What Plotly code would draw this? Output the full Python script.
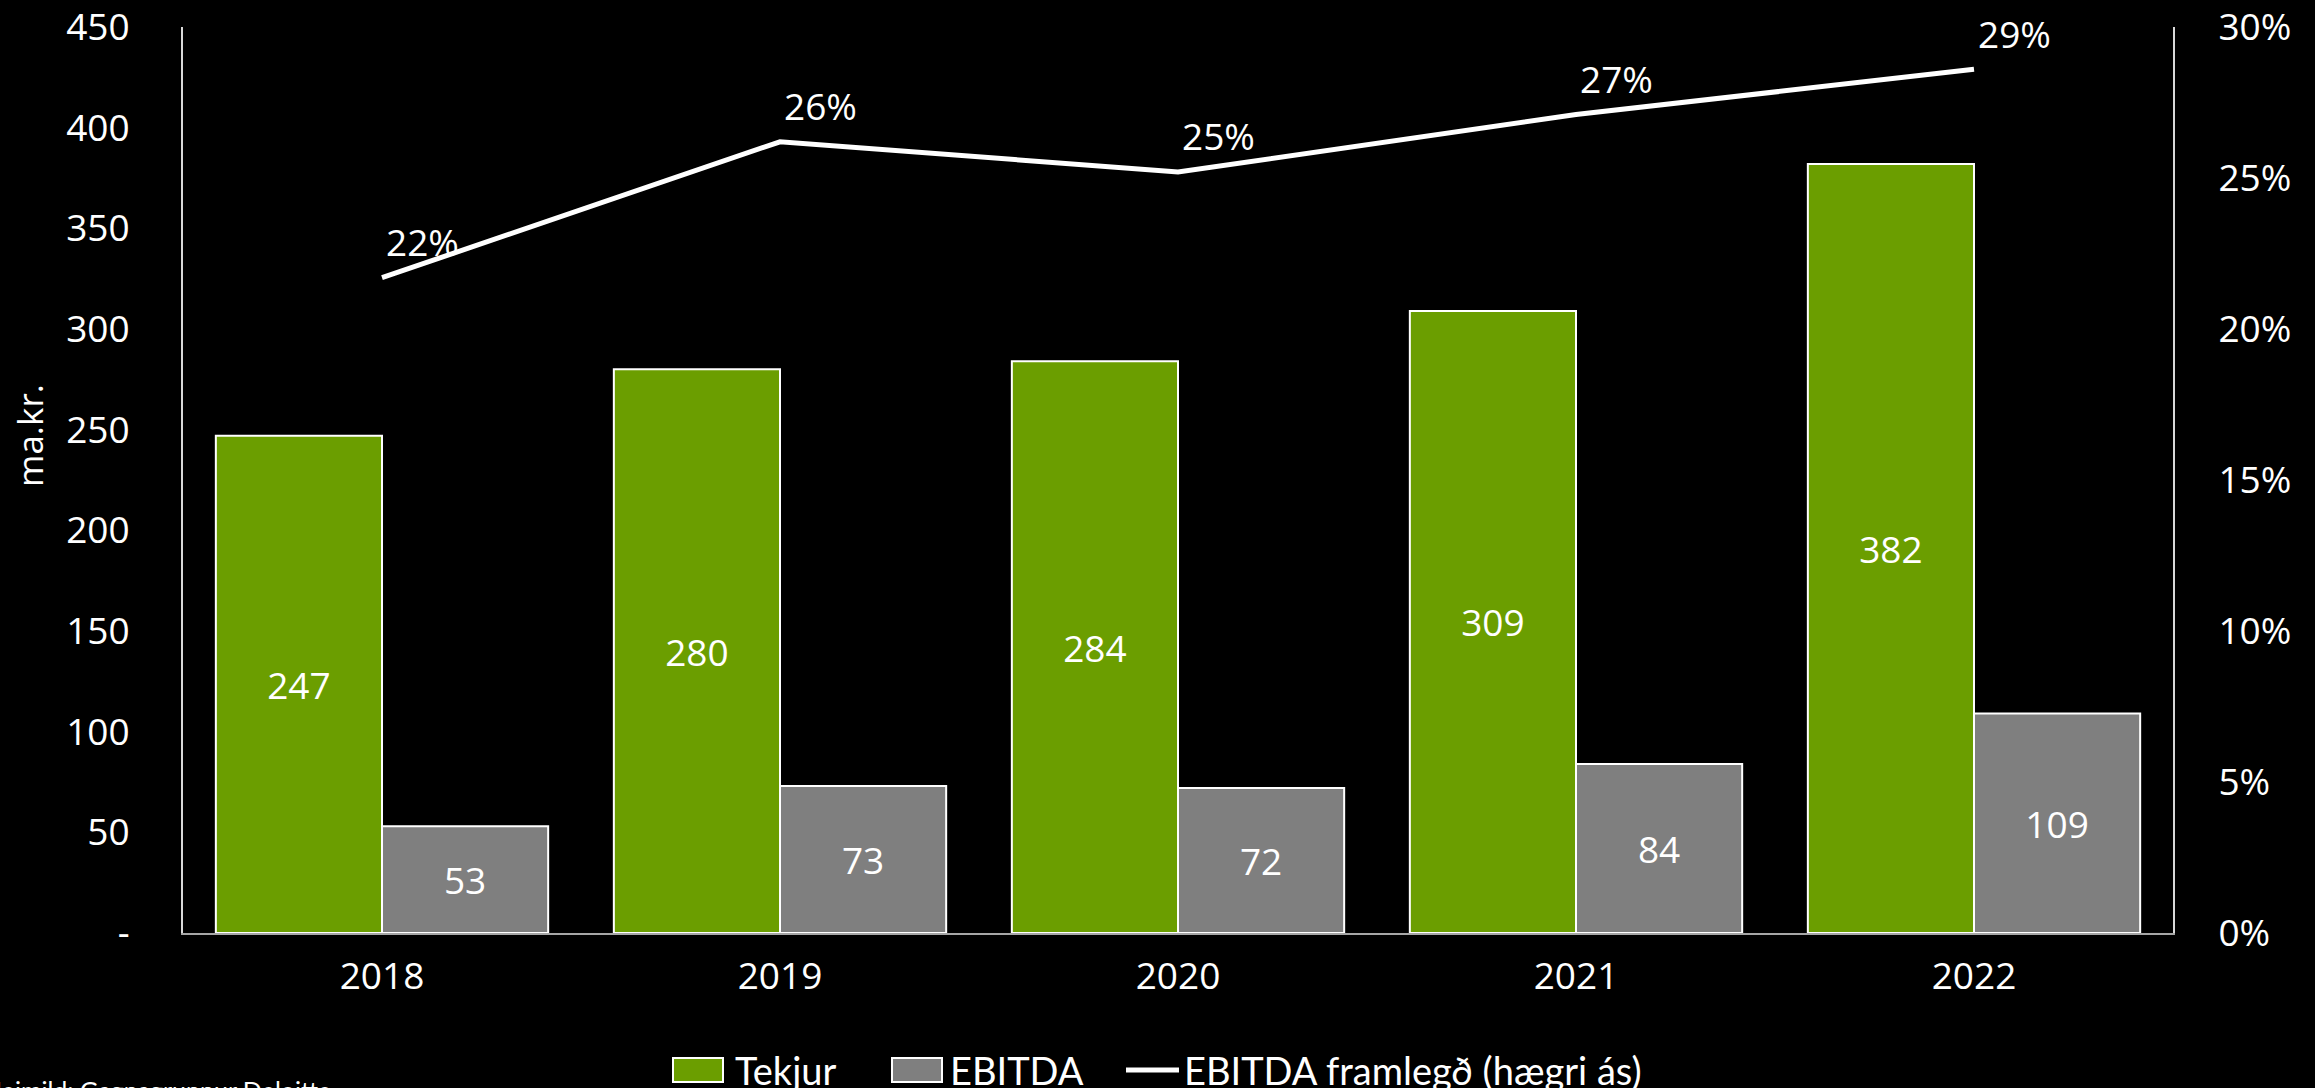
import plotly.graph_objects as go

years = ["2018", "2019", "2020", "2021", "2022"]
tekjur = [247, 280, 284, 309, 382]
ebitda = [53, 73, 72, 84, 109]
framlegd = [0.217, 0.262, 0.252, 0.271, 0.286]
framlegd_labels = ["22%", "26%", "25%", "27%", "29%"]
series_names = ["Tekjur", "EBITDA", "EBITDA framlegð (hægri ás)"]

left_tickvals = [0, 50, 100, 150, 200, 250, 300, 350, 400, 450]
left_ticktext = ["-", "50", "100", "150", "200", "250", "300", "350", "400", "450"]
right_tickvals = [0, 0.05, 0.10, 0.15, 0.20, 0.25, 0.30]
right_ticktext = ["0%", "5%", "10%", "15%", "20%", "25%", "30%"]

GREEN = "#6B9E00"
GRAY = "#7F7F7F"
FONT = "Open Sans"
LEG_FONT = "Lato"
FS = 37

W, H = 2315, 1088
ML, MR, MT, MB = 183, 142, 27, 155
PW = W - ML - MR
PH = H - MT - MB

def px_x(p):
    return (p - ML) / PW

def px_y(p):
    return (H - MB - p) / PH

fig = go.Figure()
fig.add_trace(go.Bar(
    x=years, y=tekjur, name=series_names[0], showlegend=False,
    marker=dict(color=GREEN, line=dict(color="white", width=2)),
    text=[str(v) for v in tekjur], textposition="inside", insidetextanchor="middle",
    textangle=0, constraintext="none",
    textfont=dict(family=FONT, size=FS, color="white"),
    hoverinfo="skip",
))
fig.add_trace(go.Bar(
    x=years, y=ebitda, name=series_names[1], showlegend=False,
    marker=dict(color=GRAY, line=dict(color="white", width=2)),
    text=[str(v) for v in ebitda], textposition="inside", insidetextanchor="middle",
    textangle=0, constraintext="none",
    textfont=dict(family=FONT, size=FS, color="white"),
    hoverinfo="skip",
))
fig.add_trace(go.Scatter(
    x=years, y=framlegd, name=series_names[2], yaxis="y2", showlegend=False,
    mode="lines", line=dict(color="white", width=5),
    hoverinfo="skip",
))

for i, (y, t) in enumerate(zip(framlegd, framlegd_labels)):
    fig.add_annotation(x=i, y=y, xref="x", yref="y2", text=t, showarrow=False,
                       xshift=40, yshift=36,
                       font=dict(family=FONT, size=FS, color="white"))

# legend (drawn manually to match the large swatches)
LEG_Y = 1070
fig.add_shape(type="rect", xref="paper", yref="paper",
              x0=px_x(673), x1=px_x(723), y0=px_y(1058), y1=px_y(1082),
              fillcolor=GREEN, line=dict(color="white", width=2))
fig.add_shape(type="rect", xref="paper", yref="paper",
              x0=px_x(892), x1=px_x(942), y0=px_y(1058), y1=px_y(1082),
              fillcolor=GRAY, line=dict(color="white", width=2))
fig.add_shape(type="line", xref="paper", yref="paper",
              x0=px_x(1126), x1=px_x(1179), y0=px_y(LEG_Y), y1=px_y(LEG_Y),
              line=dict(color="white", width=5))
for name, xl in zip(series_names, [733, 948, 1182]):
    fig.add_annotation(x=px_x(xl), y=px_y(LEG_Y), xref="paper", yref="paper",
                       xanchor="left", yanchor="middle", showarrow=False,
                       text=name, font=dict(family=LEG_FONT, size=38, color="white"))

fig.add_annotation(x=px_x(-19), y=px_y(1073), xref="paper", yref="paper",
                   xanchor="left", yanchor="top", showarrow=False,
                   text="Heimild: Gagnagrunnur Deloitte",
                   font=dict(family=LEG_FONT, size=25, color="white"))

fig.add_annotation(x=px_x(29), y=px_y(436), xref="paper", yref="paper",
                   xanchor="center", yanchor="middle", showarrow=False,
                   text="ma.kr.", textangle=-90,
                   font=dict(family=FONT, size=35, color="white"))

fig.update_layout(
    width=W, height=H,
    margin=dict(l=ML, r=MR, t=MT, b=MB, autoexpand=False),
    paper_bgcolor="black", plot_bgcolor="black",
    barmode="group", bargap=0.165, bargroupgap=0,
    font=dict(family=FONT, color="white", size=FS),
    showlegend=False,
    xaxis=dict(type="category", range=[-0.5, len(years) - 0.5],
               showgrid=False, showline=True, linecolor="#A6A6A6", linewidth=2,
               ticks="", tickfont=dict(family=FONT, size=FS, color="white"),
               ticklabelstandoff=10, zeroline=False),
    yaxis=dict(range=[0, 450], showgrid=False, zeroline=False,
               showline=True, linecolor="#D9D9D9", linewidth=2,
               tickvals=left_tickvals, ticktext=left_ticktext,
               ticks="", ticklabelstandoff=44, ticklabeloverflow="allow",
               tickfont=dict(family=FONT, size=FS, color="white")),
    yaxis2=dict(range=[0, 0.30], overlaying="y", side="right", showgrid=False,
                zeroline=False, showline=True, linecolor="#D9D9D9", linewidth=2,
                tickvals=right_tickvals, ticktext=right_ticktext,
                ticks="", ticklabelstandoff=36, ticklabeloverflow="allow",
                tickfont=dict(family=FONT, size=FS, color="white")),
)

fig.write_html("out.html", config={"displayModeBar": False},
               post_script="document.body.style.margin='0';document.body.style.background='black';document.body.style.overflow='hidden';")
